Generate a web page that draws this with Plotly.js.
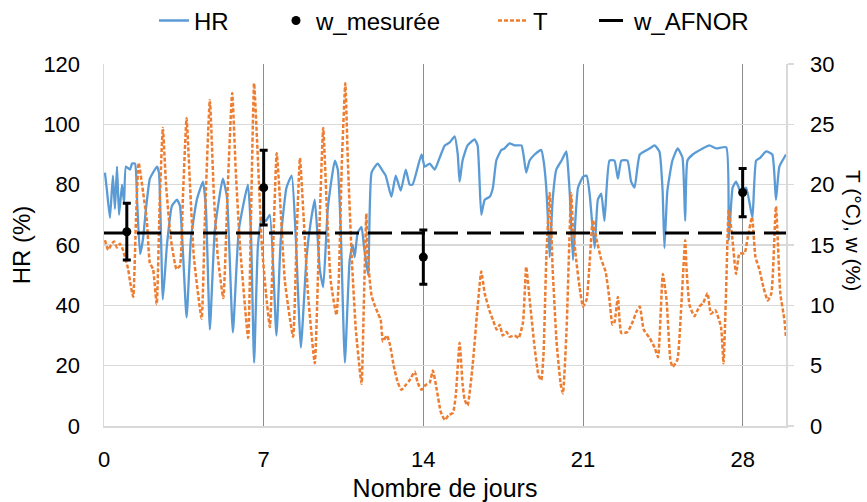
<!DOCTYPE html>
<html>
<head>
<meta charset="utf-8">
<script src="https://cdn.plot.ly/plotly-3.0.1.min.js"></script>
<style>html,body{margin:0;padding:0;background:#fff;}#chart{width:867px;height:502px;}</style>
</head>
<body>
<div id="chart"></div>
<script>
// HR (%) series — days and values
const hrDays = [0.04,0.13,0.26,0.39,0.48,0.57,0.66,0.79,0.88,0.96,1.14,1.23,1.36,1.45,1.58,1.71,1.84,2.01,2.15,2.32,2.41,2.58,2.76,2.98,3.2,3.33,3.62,3.81,4.07,4.34,4.47,4.64,4.86,5.21,5.39,5.65,5.91,6.31,6.44,6.58,6.75,6.92,7.1,7.27,7.56,7.75,8.0,8.23,8.41,8.63,8.88,9.07,9.24,9.37,9.46,9.61,9.81,10.12,10.25,10.38,10.56,10.77,10.9,10.99,11.12,11.29,11.39,11.58,11.73,12.0,12.18,12.35,12.6,12.79,13.01,13.23,13.4,13.53,13.92,14.06,14.28,14.5,14.72,14.94,15.16,15.37,15.51,15.59,15.72,15.94,16.25,16.38,16.54,16.69,16.91,17.05,17.2,17.42,17.56,17.78,18.0,18.3,18.39,18.51,18.66,18.88,19.17,19.27,19.38,19.46,19.54,19.67,19.83,20.06,20.27,20.35,20.42,20.56,20.68,20.78,21.0,21.16,21.29,21.51,21.65,21.8,21.94,22.16,22.38,22.53,22.68,22.95,23.11,23.26,23.49,23.92,24.14,24.35,24.49,24.57,24.7,24.92,25.15,25.36,25.48,25.58,25.81,26.25,26.54,26.84,27.28,27.39,27.56,27.71,27.9,28.15,28.3,28.43,28.59,28.78,29.03,29.3,29.46,29.61,29.9];
const hrVals = [84,78,69,83,72,86,70,80,74,86,85,87,87,75,57,62,72,82,84,86,84,42,60,73,75,73,36,62,75,81,72,32,65,82,76,31,65,80,65,21,60,69,68,70,30,62,79,83,62,26,56,68,75,62,52,46,72,88,85,65,21,55,60,56,64,66,60,50,84,87,85,83,76,83,78,85,80,80,90,86,87,85,89,93,94,96,90,81,88,93,95,93,70,75,76,79,88,91.5,92,93.7,93,93,90,84,88,90,91.5,88,80,69,56,75,85,88,91,85,77,55,70,79,82.6,83,77,59,75,77,68,88,88,82,88,88,81,79,90,92,93,91,78,59,78,88,92,89,68,88,90,92,93,92,92.4,61.6,79,81,78,79,74,69,88,89,91,90,75,86,90];

// T (°C) series — days and values
const tDays = [0.04,0.18,0.31,0.44,0.57,0.7,0.83,1.06,1.14,1.28,1.4,1.52,1.72,1.88,2.01,2.15,2.31,2.45,2.58,2.72,2.93,3.18,3.33,3.46,3.62,3.77,3.94,4.28,4.42,4.64,4.82,4.99,5.23,5.43,5.62,5.78,5.96,6.32,6.44,6.58,6.75,6.92,7.1,7.27,7.4,7.57,7.71,7.93,8.29,8.45,8.59,8.76,8.94,9.24,9.42,9.61,9.77,9.94,10.19,10.29,10.43,10.58,10.69,10.86,11.04,11.29,11.39,11.5,11.56,11.73,11.87,12.02,12.13,12.23,12.4,12.53,12.7,12.88,13.04,13.23,13.4,13.62,13.75,13.92,14.1,14.28,14.42,14.59,14.76,14.94,15.11,15.3,15.42,15.59,15.72,15.81,15.94,16.16,16.34,16.54,16.69,16.91,17.05,17.21,17.35,17.48,17.65,17.78,18.0,18.18,18.37,18.51,18.66,18.88,19.05,19.17,19.27,19.39,19.54,19.67,19.84,20.02,20.12,20.28,20.48,20.56,20.7,20.85,21.0,21.16,21.29,21.43,21.59,21.8,21.99,22.16,22.29,22.38,22.53,22.68,22.95,23.17,23.35,23.49,23.66,23.92,24.14,24.29,24.5,24.66,24.83,24.93,25.14,25.31,25.48,25.54,25.67,25.89,26.1,26.27,26.46,26.61,26.8,27.05,27.16,27.27,27.39,27.55,27.71,27.86,28.08,28.21,28.41,28.56,28.73,28.91,29.1,29.26,29.46,29.65,29.83,29.9];
const tVals = [15.4,14.6,15.0,15.3,14.8,15.1,14.6,13.0,12.0,10.7,17,21.8,19.3,17,13.5,13,10.1,19,24.7,20,15.5,13,13.3,19,25.5,20,14,8.9,17,27,19,14,10.6,20,27.6,21,15,7.3,17,28.4,22,15,11,8.2,14,22.6,19,12,7.4,16,22.2,17,11,5.2,15,24.7,18,12,9.2,12,22,28.4,22,14,8,3.5,10,17.6,14,10.8,10,9.3,8.8,7,7.5,6.8,5,3.6,3.0,3.4,3.8,4.5,3.6,3.0,3.4,3.6,4.6,3.0,1.2,0.5,0.9,1.1,2.5,6.9,3.5,2.2,1.7,5,9,12.8,11,9.5,8.8,8.0,8.4,7.5,7.8,7.4,7.5,7.3,8.6,13.2,10.5,6.5,4.2,3.8,6,13.8,19.3,13,7,3.5,2.7,8,19.3,16.5,13.8,11.5,9.9,10.5,13.5,17.1,15.5,13.8,12.8,10.5,8.4,8.6,10.7,7.7,7.8,8.6,9.5,9.9,8.0,7.3,6.5,5.7,12.6,10.5,5.5,4.9,5.5,10,15.4,13,10.0,9.1,9.9,10.2,11,9.3,9.6,8.2,5.2,11,17.9,15.5,12.6,14.3,14.3,15.5,17.3,14,13,11.5,10.4,11,18.2,11,8.8,7.3];

// w mesurée (%) with error
const wDays = [1, 7, 14, 28];
const wVals = [16.1, 19.75, 14.0, 19.35];
const wErr = [2.35, 3.1, 2.25, 2.0];

// w AFNOR (%)
const afnorDays = [0, 29.9];
const afnorVals = [16, 16];

const FONT = 'Liberation Sans, Arial, sans-serif';
const LEG_FONT = {family: FONT, size: 24, color: '#000000'};
const legBase = {orientation: 'h', xanchor: 'left', y: 1.119, yanchor: 'middle',
                 font: LEG_FONT, bgcolor: 'rgba(0,0,0,0)', borderwidth: 0};

const traces = [
  {x: hrDays, y: hrVals, name: 'HR', type: 'scatter', mode: 'lines', yaxis: 'y',
   line: {color: '#5b9bd5', width: 2.3, shape: 'spline', smoothing: 0.45}, legend: 'legend'},
  {x: tDays, y: tVals, name: 'T', type: 'scatter', mode: 'lines', yaxis: 'y2',
   line: {color: '#ed7d31', width: 2.5, dash: '4px,2px', shape: 'spline', smoothing: 0.45}, legend: 'legend3'},
  {x: afnorDays, y: afnorVals, name: 'w_AFNOR', type: 'scatter', mode: 'lines', yaxis: 'y2',
   line: {color: '#000000', width: 3, dash: '24px,9px'}, legend: 'legend4'},
  {x: wDays, y: wVals, name: 'w_mesurée', type: 'scatter', mode: 'markers', yaxis: 'y2',
   marker: {color: '#000000', size: 9},
   error_y: {type: 'data', array: wErr, visible: true, color: '#000000', thickness: 3, width: 4},
   legend: 'legend2'}
];

const layout = {
  width: 867, height: 502,
  margin: {l: 104, r: 81, t: 64, b: 76, autoexpand: false},
  paper_bgcolor: '#ffffff', plot_bgcolor: '#ffffff',
  font: {family: FONT, size: 22, color: '#000000'},
  showlegend: true,
  legend: Object.assign({}, legBase, {x: 0.0733}),
  legend2: Object.assign({}, legBase, {x: 0.2522}),
  legend3: Object.assign({}, legBase, {x: 0.5704}),
  legend4: Object.assign({}, legBase, {x: 0.7185}),
  xaxis: {range: [0, 29.9], tickvals: [0, 7, 14, 21, 28], ticktext: ['0','7','14','21','28'],
          showgrid: true, gridcolor: '#8c8c8c', gridwidth: 1, zeroline: false,
          showline: true, linecolor: '#d9d9d9', linewidth: 1.5, ticks: '',
          ticklabelstandoff: 13,
          tickfont: {family: FONT, size: 22, color: '#000000'},
          title: {text: 'Nombre de jours', font: {family: FONT, size: 25, color: '#000000'}, standoff: 8}},
  yaxis: {range: [0, 120], dtick: 20, showgrid: true, gridcolor: '#d9d9d9', gridwidth: 1.5,
          zeroline: false, showline: true, linecolor: '#d9d9d9', linewidth: 1.5, ticks: '',
          ticklabelstandoff: 18,
          tickfont: {family: FONT, size: 22, color: '#000000'},
          title: {text: 'HR (%)', font: {family: FONT, size: 24, color: '#000000'}, standoff: 6}},
  yaxis2: {range: [0, 30], dtick: 5, overlaying: 'y', side: 'right', showgrid: false,
           zeroline: false, showline: true, linecolor: '#d9d9d9', linewidth: 1.5,
           ticks: 'outside', ticklen: 6, tickcolor: '#d9d9d9', tickwidth: 1.5,
           ticklabelstandoff: 12,
           tickfont: {family: FONT, size: 22, color: '#000000'}},
  annotations: [
    {text: 'T (°C), w (%)', textangle: 90, xref: 'paper', yref: 'paper', x: 1.098, y: 0.539,
     xanchor: 'center', yanchor: 'middle', showarrow: false,
     font: {family: FONT, size: 21, color: '#000000'}}
  ]
};

Plotly.newPlot('chart', traces, layout, {displayModeBar: false, staticPlot: true});
</script>
</body>
</html>
